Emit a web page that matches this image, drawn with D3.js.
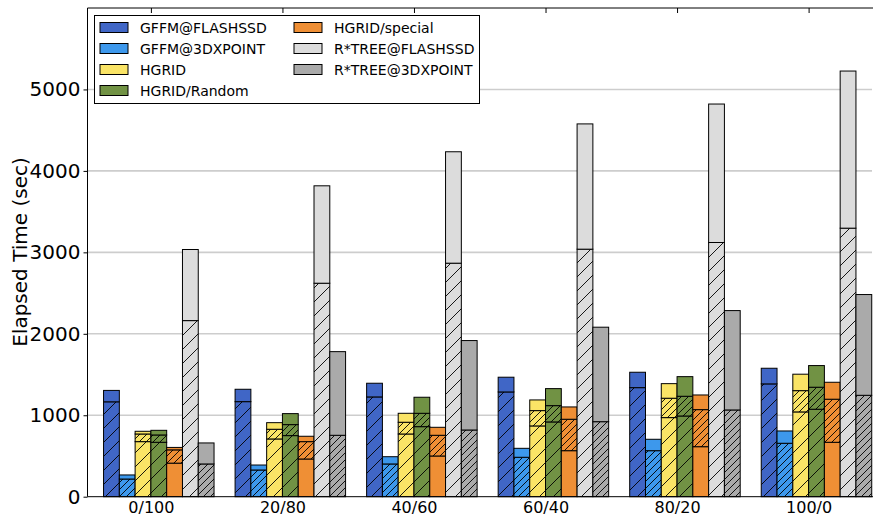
<!DOCTYPE html>
<html>
<head>
<meta charset="utf-8">
<script src="https://cdn.jsdelivr.net/npm/d3@7"></script>
<style>
  html, body { margin: 0; padding: 0; background: #fff; }
  svg { display: block; font-family: "DejaVu Sans", sans-serif; }
</style>
</head>
<body>
<svg id="chart" width="873" height="517"></svg>
<script>
// Workload mixes on the x axis
const categories = ["0/100", "20/80", "40/60", "60/40", "80/20", "100/0"];
const yTicks = [0, 1000, 2000, 3000, 4000, 5000];

// Stacked elapsed times (sec): cumulative boundaries of each bar's segments
const gffmFlashTotal = [1305, 1319, 1393, 1467, 1528, 1577];
const gffmFlashLower = [1165, 1167, 1225, 1286, 1339, 1385];

const gffm3dTotal = [267, 389, 491, 594, 705, 807];
const gffm3dLower = [217, 328, 402, 484, 565, 656];

const hgridTotal = [803, 909, 1024, 1188, 1388, 1504];
const hgridMid   = [770, 828, 914, 1057, 1209, 1302];
const hgridLower = [676, 709, 770, 869, 971, 1041];

const randomTotal = [815, 1020, 1221, 1327, 1474, 1610];
const randomMid   = [758, 885, 1024, 1118, 1233, 1344];
const randomLower = [668, 750, 860, 918, 991, 1074];

const specialTotal = [605, 742, 852, 1102, 1249, 1405];
const specialMid   = [575, 676, 754, 951, 1069, 1197];
const specialLower = [412, 463, 500, 565, 614, 668];

const rtreeFlashTotal = [3035, 3817, 4235, 4577, 4821, 5226];
const rtreeFlashLower = [2162, 2621, 2867, 3039, 3121, 3297];

const rtree3dTotal = [660, 1781, 1917, 2081, 2285, 2482];
const rtree3dLower = [402, 754, 819, 921, 1065, 1245];

// Series: name, boundaries bottom-to-top, fill colour, hatch for each segment
const series = [
  { name: "GFFM@FLASHSSD",   bounds: [gffmFlashLower, gffmFlashTotal],          color: "#4066c6", hatch: ["sparse", "none"] },
  { name: "GFFM@3DXPOINT",   bounds: [gffm3dLower, gffm3dTotal],                color: "#3d98ec", hatch: ["dense", "none"] },
  { name: "HGRID",           bounds: [hgridLower, hgridMid, hgridTotal],        color: "#fae466", hatch: ["sparse", "dense", "none"] },
  { name: "HGRID/Random",    bounds: [randomLower, randomMid, randomTotal],     color: "#719244", hatch: ["sparse", "dense", "none"] },
  { name: "HGRID/special",   bounds: [specialLower, specialMid, specialTotal],  color: "#ef8f35", hatch: ["none", "dense", "none"] },
  { name: "R*TREE@FLASHSSD", bounds: [rtreeFlashLower, rtreeFlashTotal],        color: "#dcdcdc", hatch: ["sparse", "none"] },
  { name: "R*TREE@3DXPOINT", bounds: [rtree3dLower, rtree3dTotal],              color: "#aaaaaa", hatch: ["dense", "none"] }
];

const svg = d3.select("#chart");
const plot = { left: 87.5, right: 872, top: 8, bottom: 496.7 };

const x = d3.scaleLinear().domain([-0.482, categories.length - 1 + 0.482]).range([plot.left, plot.right]);
const y = d3.scaleLinear().domain([0, 6000]).range([plot.bottom, plot.top]);
const barW = 0.12; // bar width in category units

// Hatch patterns, one per colour and density
const defs = svg.append("defs");
const periods = { sparse: 14, dense: 7 };
function patternId(i, h) { return "hatch-" + i + "-" + h; }
series.forEach((s, i) => {
  Object.entries(periods).forEach(([h, p]) => {
    const pat = defs.append("pattern")
      .attr("id", patternId(i, h))
      .attr("patternUnits", "userSpaceOnUse")
      .attr("width", p).attr("height", p);
    pat.append("rect").attr("width", p).attr("height", p).attr("fill", s.color);
    pat.append("path")
      .attr("d", `M0,${p} L${p},0 M${-p / 2},${p / 2} L${p / 2},${-p / 2} M${p / 2},${p * 1.5} L${p * 1.5},${p / 2}`)
      .attr("stroke", "#000").attr("stroke-width", 0.9);
  });
});

// Horizontal grid
svg.append("g").selectAll("line")
  .data(yTicks.filter(v => v > 0))
  .join("line")
  .attr("x1", plot.left).attr("x2", plot.right)
  .attr("y1", d => y(d)).attr("y2", d => y(d))
  .attr("stroke", "#cdcdcd").attr("stroke-width", 1.6);

// Bars: each series drawn as stacked segments
const barsG = svg.append("g");
series.forEach((s, si) => {
  categories.forEach((c, ci) => {
    const x0 = x(ci + (si - 3) * barW);
    const x1 = x(ci + (si - 2) * barW);
    const edges = [0].concat(s.bounds.map(b => b[ci]));
    for (let k = 0; k < s.bounds.length; k++) {
      const lo = edges[k], hi = edges[k + 1];
      const h = s.hatch[k];
      barsG.append("rect")
        .attr("x", x0).attr("width", x1 - x0)
        .attr("y", y(hi)).attr("height", y(lo) - y(hi))
        .attr("fill", h === "none" ? s.color : `url(#${patternId(si, h)})`)
        .attr("stroke", "#000").attr("stroke-width", 1);
    }
  });
});

// Left axis (outward ticks)
const yAxis = d3.axisLeft(y).tickValues(yTicks).tickSize(4).tickPadding(3).tickFormat(d3.format("d"));
const yg = svg.append("g").attr("transform", `translate(${plot.left},0)`).call(yAxis);
yg.select(".domain").remove();
yg.selectAll("text").attr("font-size", 20).attr("font-family", "DejaVu Sans").attr("fill", "#000");
yg.selectAll("line").attr("stroke", "#000");

// Bottom axis: category labels
const xg = svg.append("g").attr("transform", `translate(0,${plot.bottom})`)
  .call(d3.axisBottom(x).tickValues(d3.range(categories.length)).tickFormat(i => categories[i]).tickSize(0).tickPadding(5));
xg.select(".domain").remove();
xg.selectAll("text").attr("font-size", 16).attr("font-family", "DejaVu Sans").attr("fill", "#000");

// Top axis: inward ticks at category positions
const tg = svg.append("g").attr("transform", `translate(0,${plot.top})`)
  .call(d3.axisTop(x).tickValues(d3.range(categories.length)).tickSize(-5).tickFormat(""));
tg.select(".domain").remove();
tg.selectAll("line").attr("stroke", "#000");

// Spines
svg.append("line").attr("x1", plot.left).attr("x2", plot.right + 1).attr("y1", plot.top).attr("y2", plot.top)
  .attr("stroke", "#000").attr("stroke-width", 1);
svg.append("line").attr("x1", plot.left).attr("x2", plot.right + 1).attr("y1", plot.bottom).attr("y2", plot.bottom)
  .attr("stroke", "#000").attr("stroke-width", 1);
svg.append("line").attr("x1", plot.left).attr("x2", plot.left).attr("y1", plot.top).attr("y2", plot.bottom)
  .attr("stroke", "#000").attr("stroke-width", 1);

// Y axis title
svg.append("text")
  .attr("transform", "translate(27,252) rotate(-90)")
  .attr("text-anchor", "middle")
  .attr("font-size", 20)
  .attr("fill", "#000")
  .text("Elapsed Time (sec)");

// Legend: two columns
const legend = svg.append("g");
legend.append("rect")
  .attr("x", 94.5).attr("y", 15.5).attr("width", 385).attr("height", 88)
  .attr("fill", "#fff").attr("stroke", "#000").attr("stroke-width", 1);
const rowY = [27.5, 48.5, 69.5, 90.5];
const colX = [100, 294];
series.forEach((s, i) => {
  const col = i < 4 ? 0 : 1;
  const row = i < 4 ? i : i - 4;
  const g = legend.append("g").attr("transform", `translate(${colX[col]},${rowY[row]})`);
  g.append("rect").attr("x", 0).attr("y", -5).attr("width", 28).attr("height", 10)
    .attr("fill", s.color).attr("stroke", "#000").attr("stroke-width", 1);
  g.append("text").attr("x", 40).attr("dy", "0.36em")
    .attr("font-size", 14).attr("fill", "#000").text(s.name);
});
</script>
</body>
</html>
